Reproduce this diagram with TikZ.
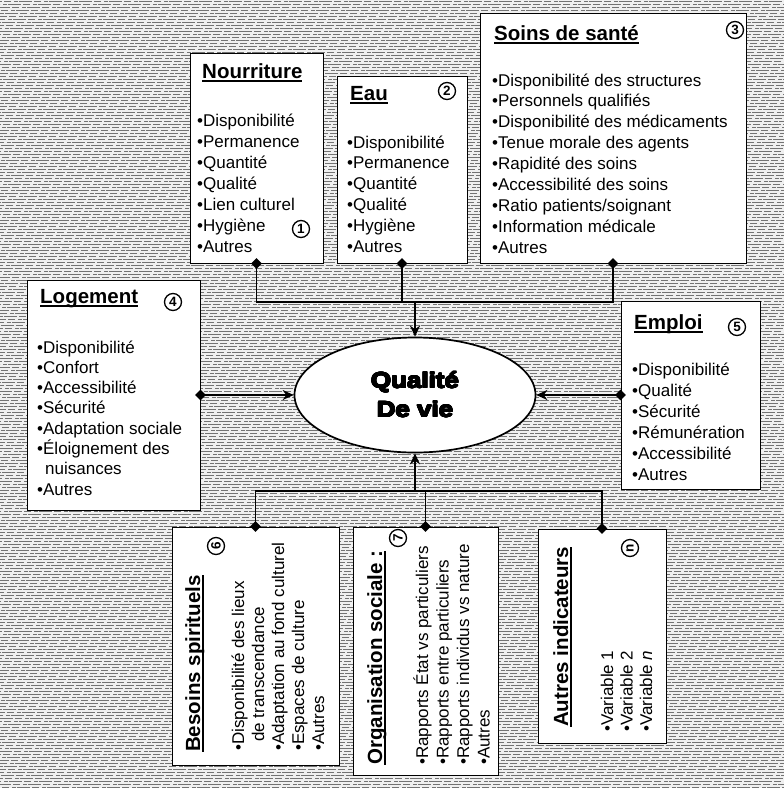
\documentclass[tikz,border=0pt]{standalone}
\usepackage{fontspec}
\usepackage[copies]{contour}
\contourlength{0.55pt}
\contournumber{16}
\setmainfont{Liberation Sans}
\newfontfamily\heavyfont{Liberation Sans Bold}[FakeStretch=1.18]
\usetikzlibrary{arrows.meta,shapes.geometric}
\newsavebox\ulbox
\newcommand{\myul}[1]{\sbox\ulbox{#1}\rlap{\rule[-3.5pt]{\wd\ulbox}{1.4pt}}\usebox\ulbox}
\begin{document}
\begin{tikzpicture}[x=1pt,y=-1pt,
  box/.style={draw, line width=1pt, fill=white, inner sep=0pt, rectangle},
  item/.style={font=\fontsize{17}{21}\selectfont, inner sep=0pt, anchor=base west},
  ttl/.style={font=\fontsize{20.5}{24}\selectfont\bfseries, inner sep=0pt, anchor=base west},
  num/.style={circle, draw, line width=1.3pt, inner sep=0pt, minimum size=17pt, fill=white, font=\fontsize{13.5}{13.5}\selectfont\bfseries},
  conn/.style={line width=1.7pt},
  arr/.style={conn, -{Stealth[length=11pt,width=10pt]}},
  dia/.style={diamond, fill=black, inner sep=0pt, minimum size=11pt},
  centre/.style={font=\fontsize{22}{26}\heavyfont, inner sep=0pt, anchor=base},
  bgline/.style={black!55, line width=0.9pt, dash pattern=on 13pt off 2pt on 7pt off 3pt on 4pt off 1pt}]
\useasboundingbox (0,0) rectangle (784,788);
\fill[black!6] (0,0) rectangle (784,788);
\foreach \yy [count=\k] in {1,4,...,787} \draw[bgline, dash phase={mod(\k*11,30)}] (0,\yy) -- (784,\yy);

% boxes
\node[box, minimum width=133pt, minimum height=210pt] (nour) at (256.5,158) {};
\node[box, minimum width=130pt, minimum height=187pt] (eau) at (402,169.5) {};
\node[box, minimum width=266pt, minimum height=250pt] (soins) at (613,138) {};
\node[box, minimum width=173pt, minimum height=230pt] (loge) at (113.5,395) {};
\node[box, minimum width=139pt, minimum height=188pt] (emploi) at (690.5,395) {};
\node[box, minimum width=167pt, minimum height=238pt] (bes) at (255.5,646) {};
\node[box, minimum width=145pt, minimum height=248pt] (orga) at (425.5,651) {};
\node[box, minimum width=128pt, minimum height=214pt] (autres) at (602,636) {};
\node[ellipse, draw, line width=1.7pt, fill=white, minimum width=241pt, minimum height=115pt, inner sep=0pt] (ell) at (415,395) {};

% connectors
\coordinate (barT) at (415,302);
\coordinate (barB) at (415,491);
\draw[conn] (nour.south) |- (barT) -| (soins.south);
\draw[conn] (eau.south) -- (eau.south |- barT);
\draw[arr] (barT) -- (ell.north);
\draw[arr] (loge.east) -- (ell.west);
\draw[arr] (emploi.west) -- (ell.east);
\draw[conn] (bes.north) |- (barB) -| (autres.north);
\draw[conn] (orga.north) -- (orga.north |- barB);
\draw[arr] (barB) -- (ell.south);
\foreach \b in {nour,eau,soins} \node[dia] (d-\b) at (\b.south) {};
\foreach \b in {bes,orga,autres} \node[dia] (d-\b) at (\b.north) {};
\node[dia] (d-loge) at (loge.east) {};
\node[dia] (d-emploi) at (emploi.west) {};

% centre
\node[centre] (q1) at (415,388) {\contour{black}{Qualité}};
\node[centre] (q2) at (415,417) {\contour{black}{De vie}};

% Nourriture
\node[ttl] (t-nour) at (202,78) {\myul{Nourriture}};
\foreach \t [count=\i] in {Disponibilité,Permanence,Quantité,Qualité,Lien culturel,Hygiène,Autres}
  \node[item] (nour-\i) at (197,{105+21*\i}) {•\t};
\node[num] (n1) at (301,229) {1};

% Eau
\node[ttl] (t-eau) at (350,100) {\myul{Eau}};
\foreach \t [count=\i] in {Disponibilité,Permanence,Quantité,Qualité,Hygiène,Autres}
  \node[item] (eau-\i) at (347,{127.2+20.8*\i}) {•\t};
\node[num] (n2) at (447,91) {2};

% Soins
\node[ttl] (t-soins) at (494,40) {\myul{Soins de santé}};
\foreach \t [count=\i] in {Disponibilité des structures,Personnels qualifiés,Disponibilité des médicaments,Tenue morale des agents,Rapidité des soins,Accessibilité des soins,Ratio patients/soignant,Information médicale,Autres}
  \node[item] (soins-\i) at (492,{65.1+20.9*\i}) {•\t};
\node[num] (n3) at (735,30) {3};

% Logement
\node[ttl] (t-loge) at (40,303) {\myul{Logement}};
\foreach \t [count=\i] in {•Disponibilité,•Confort,•Accessibilité,•Sécurité,•Adaptation sociale,•Éloignement des,\hspace*{8pt}nuisances,•Autres}
  \node[item] (loge-\i) at (37,{332.7+20.3*\i}) {\t};
\node[num] (n4) at (173,302) {4};

% Emploi
\node[ttl] (t-emploi) at (634,329) {\myul{Emploi}};
\foreach \t [count=\i] in {Disponibilité,Qualité,Sécurité,Rémunération,Accessibilité,Autres}
  \node[item] (emploi-\i) at (632,{354+21*\i}) {•\t};
\node[num] (n5) at (737,327) {5};

% Besoins spirituels (rotated)
\node[ttl, rotate=90] (t-bes) at (200,752) {\myul{Besoins spirituels}};
\node[item, rotate=90] (bes-1) at (244,751) {•Disponibilité des lieux};
\node[item, rotate=90] (bes-2) at (264,742) {de transcendance};
\node[item, rotate=90] (bes-3) at (284,751) {•Adaptation au fond culturel};
\node[item, rotate=90] (bes-4) at (304,751) {•Espaces de culture};
\node[item, rotate=90] (bes-5) at (324,751) {•Autres};
\node[num, rotate=90] (n6) at (216,546) {6};

% Organisation sociale (rotated)
\node[ttl, rotate=90] (t-orga) at (382,765) {\myul{Organisation sociale :}};
\foreach \t [count=\i] in {Rapports État vs particuliers,Rapports entre particuliers,Rapports individus vs nature,Autres}
  \node[item, rotate=90] (orga-\i) at ({407.5+20.5*\i},765) {•\t};
\node[num, rotate=90] (n7) at (398,538) {7};

% Autres indicateurs (rotated)
\node[ttl, rotate=90] (t-autres) at (568,727) {\myul{Autres indicateurs}};
\foreach \t [count=\i] in {Variable 1,Variable 2,{Variable \textit{n}}}
  \node[item, rotate=90] (autres-\i) at ({593.5+19.5*\i},732) {•\t};
\node[num, rotate=90] (nn) at (630,548) {n};
\end{tikzpicture}
\end{document}
